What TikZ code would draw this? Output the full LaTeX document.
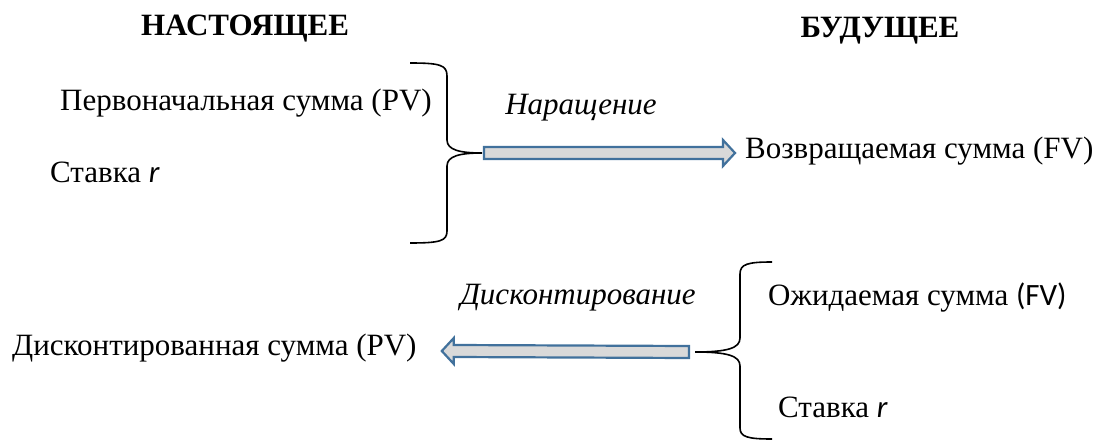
\documentclass[tikz,border=0pt]{standalone}
\usepackage{fontspec}
\setmainfont{Liberation Serif}
\newfontfamily\calib{Carlito}
\usetikzlibrary{calc}
\begin{document}
\begin{tikzpicture}[x=1pt,y=-1pt,
  txt/.style={inner sep=0pt,font=\fontsize{31}{34}\selectfont},
  head/.style={txt,font=\fontsize{31}{34}\selectfont\bfseries},
  lbl/.style={txt,font=\fontsize{31}{34}\selectfont\itshape},
  brace/.style={draw=black,line width=1.6pt},
  bigarrow/.style={draw=arrowblue,fill=arrowgray,line width=2.2pt,line join=miter}]
\definecolor{arrowblue}{HTML}{41719C}
\definecolor{arrowgray}{HTML}{D9D9D9}
\useasboundingbox (0,0) rectangle (1097,441);
% headings
\node[head] (now) at (245,29) {НАСТОЯЩЕЕ};
\node[head] (fut) at (880,31) {БУДУЩЕЕ};
% upper part
\node[txt,anchor=west] (pv) at (60,103) {Первоначальная сумма (PV)};
\node[txt,anchor=west] (r1) at (50,172) {Ставка {\calib\itshape r}};
\coordinate (tip1) at (482,153);
\draw[brace] (410,63) .. controls (440,63) and (447,65) .. (447,76) -- (447,140)
  .. controls (447,150) and (460,153) .. (tip1)
  .. controls (460,153) and (447,156) .. (447,166) -- (447,231)
  .. controls (447,241) and (440,243) .. (410,243);
\node[txt,anchor=west] (fv) at (745,151) {Возвращаемая сумма (FV)};
\node[lbl] (nar) at (581,108) {Наращение};
\coordinate (e1) at ($(fv.west)+(-10,2)$);
\draw[bigarrow] ($(tip1)+(2,-6)$) -- ($(e1)+(-12,-6)$) -- ($(e1)+(-12,-13)$) -- (e1)
  -- ($(e1)+(-12,13)$) -- ($(e1)+(-12,6)$) -- ($(tip1)+(2,6)$) -- cycle;
% lower part
\node[txt,anchor=west] (dpv) at (12,348) {Дисконтированная сумма (PV)};
\node[lbl] (disc) at (578,298) {Дисконтирование};
\coordinate (tip2) at (695,352);
\draw[brace] (772,262) .. controls (748,262) and (740,264) .. (740,274) -- (740,338)
  .. controls (740,348) and (728,352) .. (tip2)
  .. controls (728,352) and (740,356) .. (740,366) -- (740,428)
  .. controls (740,437) and (748,439) .. (772,439);
\node[txt,anchor=west] (efv) at (768,298) {Ожидаемая сумма {\calib(FV)}};
\node[txt,anchor=west] (r2) at (778,407) {Ставка {\calib\itshape r}};
\coordinate (e2) at ($(dpv.east)+(25,3)$);
\draw[bigarrow] ($(tip2)+(-6,-6)$) -- ($(e2)+(12,-6)$) -- ($(e2)+(12,-13)$) -- (e2)
  -- ($(e2)+(12,13)$) -- ($(e2)+(12,6)$) -- ($(tip2)+(-6,6)$) -- cycle;
\end{tikzpicture}
\end{document}
